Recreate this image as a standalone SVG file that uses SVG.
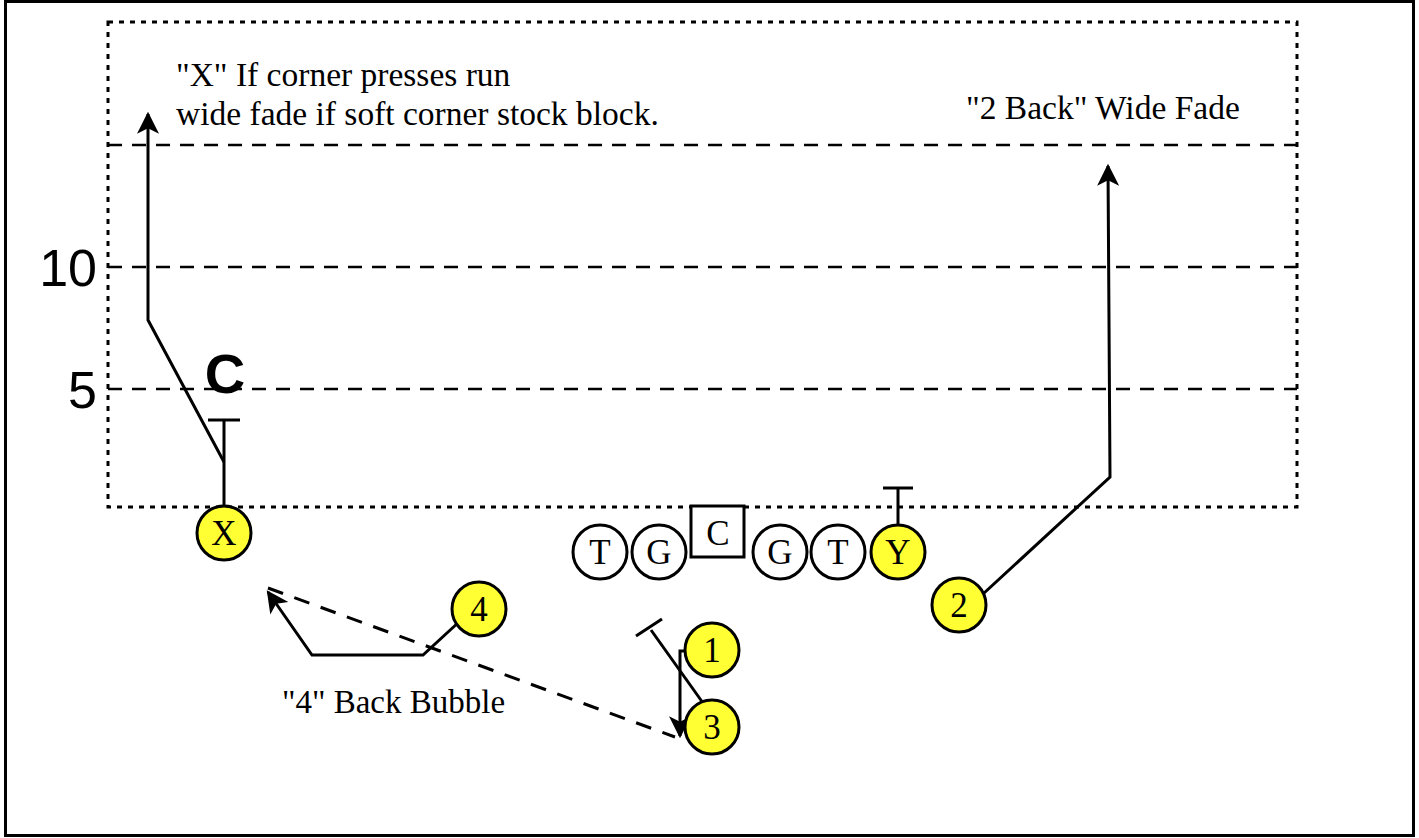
<svg xmlns="http://www.w3.org/2000/svg" width="1419" height="838" viewBox="0 0 1419 838">
<style>
.serif{font-family:"Liberation Serif","Times New Roman",serif;fill:#000}
.sans{font-family:"Liberation Sans",Arial,sans-serif;fill:#000}
.yd{stroke:#000;stroke-width:2.5;stroke-dasharray:14 10;fill:none}
.route{stroke:#000;stroke-width:3;fill:none}
.player{stroke:#000;stroke-width:3}
.yel{fill:#ffff33}
.wht{fill:#fff}
.lbl{font-family:"Liberation Serif","Times New Roman",serif;fill:#000;font-size:35px;text-anchor:middle}
</style>
<defs>
<marker id="arr" viewBox="0 0 10 10" refX="9" refY="5" orient="auto" markerUnits="userSpaceOnUse" markerWidth="26" markerHeight="22">
<path d="M0,0 L10,5 L0,10 L2.5,5 Z" fill="#000"/>
</marker>
</defs>
<rect x="5.5" y="1.5" width="1408" height="834" fill="#fff" stroke="#000" stroke-width="3"/>
<g id="field">
<rect x="108" y="22" width="1189" height="485" fill="none" stroke="#000" stroke-width="3" stroke-dasharray="5 6"/>
<line class="yd" x1="108" y1="145" x2="1297" y2="145"/>
<line class="yd" x1="108" y1="267" x2="1297" y2="267"/>
<line class="yd" x1="108" y1="389" x2="1297" y2="389"/>
<text class="sans" x="97" y="286" font-size="52" text-anchor="end">10</text>
<text class="sans" x="97" y="408" font-size="52" text-anchor="end">5</text>
</g>
<g id="labels">
<text class="serif" x="176" y="86" font-size="33.5">"X" If corner presses run</text>
<text class="serif" x="176" y="125" font-size="33.5">wide fade if soft corner stock block.</text>
<text class="serif" x="966" y="119" font-size="33.5">"2 Back" Wide Fade</text>
<text class="serif" x="282" y="713" font-size="33">"4" Back Bubble</text>
</g>
<g id="connectors">
<polyline class="route" points="224,505 224,420"/>
<line class="route" x1="208" y1="420" x2="240" y2="420"/>
<polyline class="route" points="224,462 148,320 148,114" marker-end="url(#arr)"/>
<polyline class="route" points="898,525 898,488"/>
<line class="route" x1="883" y1="488" x2="913" y2="488"/>
<polyline class="route" points="983,594 1110,477 1108,166" marker-end="url(#arr)"/>
<polyline class="route" points="460,621 423,655 312,655 268,592" marker-end="url(#arr)"/>
<line class="route" x1="268" y1="588" x2="675" y2="737" stroke-dasharray="16 12" stroke-width="2.5"/>
<polyline class="route" points="686,651 680,651 680,736" marker-end="url(#arr)"/>
<line class="route" x1="703" y1="703" x2="651" y2="630"/>
<line class="route" x1="636" y1="636" x2="662" y2="619"/>
</g>
<g id="player-X"><circle class="player yel" cx="224" cy="533" r="27"/><text class="lbl" x="224" y="545">X</text></g>
<g id="defender-C"><text class="sans" x="225" y="393" font-size="56" font-weight="bold" text-anchor="middle">C</text></g>
<g id="player-T1"><circle class="player wht" cx="600" cy="552" r="27"/><text class="lbl" x="600" y="564">T</text></g>
<g id="player-G1"><circle class="player wht" cx="659" cy="552" r="27"/><text class="lbl" x="659" y="564">G</text></g>
<g id="player-C"><rect class="player wht" x="691" y="506" width="53" height="51"/><text class="lbl" x="718" y="545" font-size="40">C</text></g>
<g id="player-G2"><circle class="player wht" cx="780" cy="552" r="27"/><text class="lbl" x="780" y="564">G</text></g>
<g id="player-T2"><circle class="player wht" cx="838" cy="552" r="27"/><text class="lbl" x="838" y="564">T</text></g>
<g id="player-Y"><circle class="player yel" cx="898" cy="552" r="27"/><text class="lbl" x="898" y="564">Y</text></g>
<g id="player-2"><circle class="player yel" cx="959" cy="605" r="27"/><text class="lbl" x="959" y="617">2</text></g>
<g id="player-4"><circle class="player yel" cx="479" cy="609" r="27"/><text class="lbl" x="479" y="621">4</text></g>
<g id="player-1"><circle class="player yel" cx="712" cy="650" r="27"/><text class="lbl" x="712" y="662">1</text></g>
<g id="player-3"><circle class="player yel" cx="712" cy="727" r="27"/><text class="lbl" x="712" y="739">3</text></g>
</svg>
